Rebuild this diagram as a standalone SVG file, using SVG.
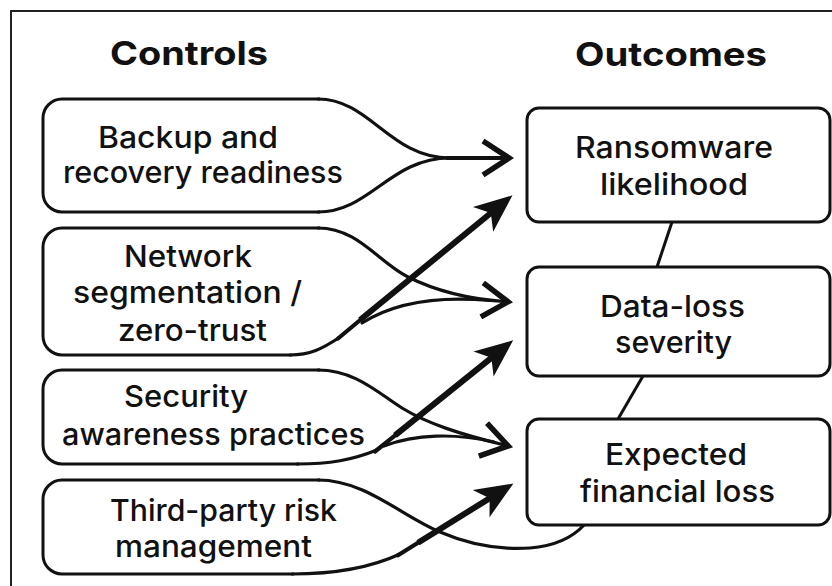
<svg xmlns="http://www.w3.org/2000/svg" width="832" height="586" viewBox="0 0 832 586">
  <style>
    .frame { fill: none; stroke: #222; stroke-width: 2; }
    .ctl { fill: none; stroke: #111; stroke-width: 3; stroke-linejoin: round; }
    .box { fill: #fff; stroke: #111; stroke-width: 3; }
    .thin { fill: none; stroke: #111; stroke-width: 3.2; stroke-linecap: round; }
    .mid { fill: none; stroke: #111; stroke-width: 4.2; stroke-linecap: round; }
    .shaft { fill: none; stroke: #111; stroke-width: 4; }
    .thick { fill: none; stroke: #111; stroke-width: 6; }
    .link { fill: none; stroke: #111; stroke-width: 3; }
    .title { font-family: Inter, "Liberation Sans", sans-serif; font-size: 33px; font-weight: 700; fill: #111; }
    .lbl { font-family: Inter, "Liberation Sans", sans-serif; font-size: 30px; font-weight: 500; fill: #111; }
  </style>
  <defs>
    <!-- open chevron head for thin arrows -->
    <marker id="chev" markerUnits="userSpaceOnUse" markerWidth="1" markerHeight="1" refX="0" refY="0" orient="auto" overflow="visible">
      <path d="M -22,-17 L 4,0 L -22,17" fill="none" stroke="#111" stroke-width="5.5" stroke-linejoin="miter"/>
    </marker>
    <!-- solid barbed head for heavy arrows -->
    <marker id="barb" markerUnits="userSpaceOnUse" markerWidth="1" markerHeight="1" refX="0" refY="0" orient="auto" overflow="visible">
      <path d="M 20,0 L -18,-16 L -8,0 L -18,16 Z" fill="#111"/>
    </marker>
  </defs>

  <rect class="frame" x="11" y="11" width="840" height="600"/>

  <text class="title" x="110" y="65" textLength="158" lengthAdjust="spacingAndGlyphs">Controls</text>
  <text class="title" x="575" y="66" textLength="192" lengthAdjust="spacingAndGlyphs">Outcomes</text>

  <g id="connectors">
    <!-- backup -> ransomware -->
    <path class="thin" d="M 318,99 C 370,99 390,158 450,158"/>
    <path class="thin" d="M 318,212 C 370,212 390,158 450,158"/>
    <path class="shaft" d="M 446,158 L 505,158" marker-end="url(#chev)"/>

    <!-- network segmentation -->
    <path class="thin" d="M 318,228 C 358,228 378,262 408,277 C 438,292 470,299 504,301.5" marker-end="url(#chev)"/>
    <path class="thin" d="M 290,355 C 310,355 322,349 340,337"/>
    <path class="mid" d="M 338,338.5 L 362,318.5"/>
    <path class="thick" d="M 360,320 L 497,208" marker-end="url(#barb)"/>
    <path class="thin" d="M 362,323 C 395,302 440,296 490,300.5"/>

    <!-- security awareness -->
    <path class="thin" d="M 318,370 C 355,370 378,393 402,408 C 428,424 460,434 504.3,445" marker-end="url(#chev)"/>
    <path class="thin" d="M 297,464 C 330,464 352,460 377,450"/>
    <path class="mid" d="M 375,451.5 L 397,433.8"/>
    <path class="thick" d="M 395,435.4 L 497.6,352.8" marker-end="url(#barb)"/>
    <path class="thin" d="M 384,446 C 415,434 455,433 494,442"/>

    <!-- third-party risk -->
    <path class="thin" d="M 318,480 C 365,480 400,515 440,532 C 470,545 500,550 530,548 C 555,546 572,538 584,525"/>
    <path class="thin" d="M 292,574 C 335,574 370,568 400,554"/>
    <path class="mid" d="M 398,555.3 L 420,541.5"/>
    <path class="thick" d="M 418,542.7 L 496.4,494.1" marker-end="url(#barb)"/>

    <!-- chain between outcomes -->
    <path class="link" d="M 672,222 L 657,267"/>
    <path class="link" d="M 643,376 L 618,419"/>
  </g>

  <g id="ctl-backup">
    <path class="ctl" d="M 320,99 H 62 A 19 19 0 0 0 43,118 V 193 A 19 19 0 0 0 62,212 H 320"/>
    <text class="lbl" x="98" y="148" textLength="180" lengthAdjust="spacingAndGlyphs">Backup and</text>
    <text class="lbl" x="63" y="183" textLength="280" lengthAdjust="spacingAndGlyphs">recovery readiness</text>
  </g>

  <g id="ctl-network">
    <path class="ctl" d="M 320,228 H 62 A 19 19 0 0 0 43,247 V 336 A 19 19 0 0 0 62,355 H 292"/>
    <text class="lbl" x="124" y="267" textLength="128" lengthAdjust="spacingAndGlyphs">Network</text>
    <text class="lbl" x="73" y="303" textLength="229" lengthAdjust="spacingAndGlyphs">segmentation /</text>
    <text class="lbl" x="118" y="341" textLength="149" lengthAdjust="spacingAndGlyphs">zero-trust</text>
  </g>

  <g id="ctl-awareness">
    <path class="ctl" d="M 320,370 H 62 A 19 19 0 0 0 43,389 V 445 A 19 19 0 0 0 62,464 H 299"/>
    <text class="lbl" x="124" y="407" textLength="124" lengthAdjust="spacingAndGlyphs">Security</text>
    <text class="lbl" x="62" y="445" textLength="303" lengthAdjust="spacingAndGlyphs">awareness practices</text>
  </g>

  <g id="ctl-thirdparty">
    <path class="ctl" d="M 320,480 H 62 A 19 19 0 0 0 43,499 V 555 A 19 19 0 0 0 62,574 H 294"/>
    <text class="lbl" x="110" y="521" textLength="227" lengthAdjust="spacingAndGlyphs">Third-party risk</text>
    <text class="lbl" x="115" y="557" textLength="197" lengthAdjust="spacingAndGlyphs">management</text>
  </g>

  <g id="out-ransomware">
    <rect class="box" x="527" y="108" width="303" height="114" rx="12"/>
    <text class="lbl" x="575" y="158" textLength="198" lengthAdjust="spacingAndGlyphs">Ransomware</text>
    <text class="lbl" x="600" y="195" textLength="148" lengthAdjust="spacingAndGlyphs">likelihood</text>
  </g>

  <g id="out-dataloss">
    <rect class="box" x="527" y="267" width="303" height="109" rx="12"/>
    <text class="lbl" x="600" y="317" textLength="145" lengthAdjust="spacingAndGlyphs">Data-loss</text>
    <text class="lbl" x="615" y="353" textLength="117" lengthAdjust="spacingAndGlyphs">severity</text>
  </g>

  <g id="out-financial">
    <rect class="box" x="527" y="419" width="303" height="106" rx="12"/>
    <text class="lbl" x="605" y="465" textLength="142" lengthAdjust="spacingAndGlyphs">Expected</text>
    <text class="lbl" x="580" y="502" textLength="195" lengthAdjust="spacingAndGlyphs">financial loss</text>
  </g>
</svg>
